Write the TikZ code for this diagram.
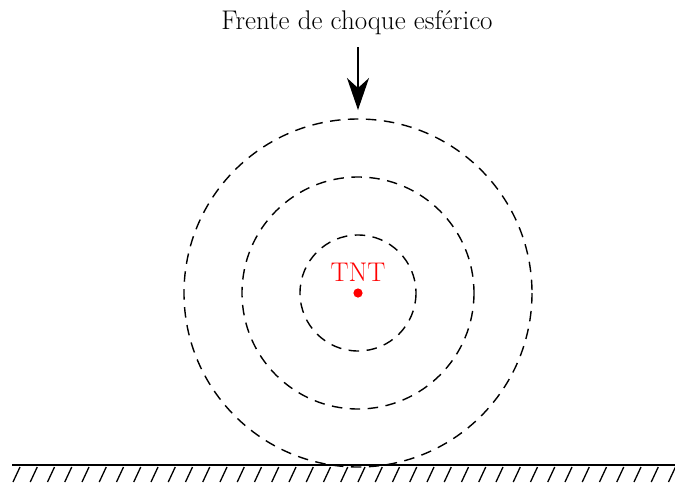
\documentclass[tikz,border=0pt]{standalone}
\usetikzlibrary{arrows.meta}
\begin{document}
\begin{tikzpicture}[x=1pt,y=-1pt,
  wave/.style={draw=black,line width=1.4pt,dash pattern=on 10.5pt off 7.5pt},
  lbl/.style={font=\fontsize{27}{32}\selectfont,inner sep=0pt,anchor=base},
  hatch/.style={line width=1.3pt},
  ground/.style={line width=2.6pt}]
\useasboundingbox (0,0) rectangle (675,488);
% title and arrow
\node[lbl] (title) at (357,29) {Frente de choque esférico};
\coordinate (atop) at (358,47);
\coordinate (atip) at (358,110);
\draw[line width=1.3pt,-{Stealth[length=32pt,width=22pt,inset=10pt]}] (atop) -- (atip);
% circles
\coordinate (c) at (358,293);
\draw[wave] (c) circle[radius=58];
\draw[wave] (c) circle[radius=116];
\draw[wave] (c) circle[radius=174];
% TNT
\node[lbl,text=red] (tnt) at (358,281) {TNT};
\fill[red] (c) circle[radius=4.6];
% ground
\coordinate (gl) at (12,465);
\coordinate (gr) at (676,465);
\draw[ground] (gl) -- (gr);
\foreach \i in {0,...,38}
  \draw[hatch] (13+\i*17.25,482) -- ++(7,-15);
\end{tikzpicture}
\end{document}
